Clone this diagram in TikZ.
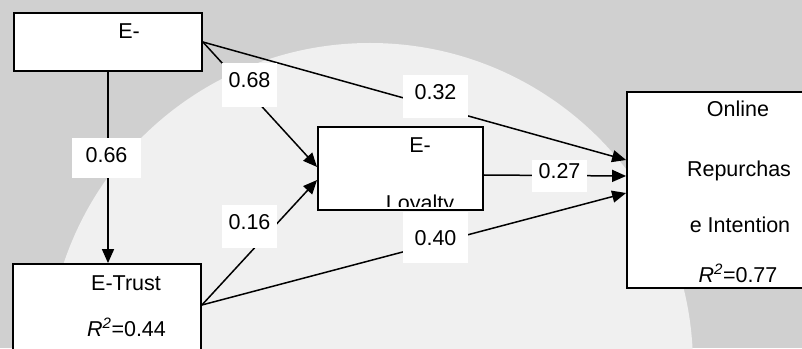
\documentclass[tikz,border=0pt]{standalone}
\usepackage{fontspec}
\setmainfont{Liberation Sans}
\usetikzlibrary{arrows.meta}
\definecolor{bggray}{HTML}{D0D0D0}
\definecolor{bglight}{HTML}{F0F0F0}
\begin{document}
\begin{tikzpicture}[x=1pt,y=1pt,
  font=\fontsize{21.5}{25}\selectfont,
  box/.style={draw=black, line width=1.8pt, fill=white, rectangle, inner sep=0pt},
  arr/.style={line width=1.5pt, -{Triangle[length=14pt,width=12pt]}},
  lbl/.style={fill=white, inner sep=0pt, text depth=10pt},
  txt/.style={anchor=base, inner sep=0pt}]
\clip (0,0) rectangle (802,348);
\fill[bggray] (0,0) rectangle (802,348);
\fill[bglight] (370,-18) circle (323);
% boxes
\node[box, minimum width=188, minimum height=58] (A) at (108,306) {};
\node[box, minimum width=188, minimum height=136] (T) at (107,16) {};
\node[box, minimum width=165, minimum height=83] (L) at (400.5,179.5) {};
\node[box, minimum width=220, minimum height=196] (O) at (737,158) {};
% texts
\node[txt] (tA) at (129,309) {E-};
\node[txt] (tT1) at (126,58) {E-Trust};
\node[txt] (tT2) at (126.5,12) {\textit{R}\textsuperscript{\textit{2}}=0.44};
\node[txt] (tL1) at (420,195) {E-};
\begin{scope}
  \clip ([xshift=1pt,yshift=-1pt]L.north west) rectangle ([yshift=4pt]L.south east);
  \node[txt] (tL2) at (420,137) {Loyalty};
\end{scope}
\node[txt] (tO1) at (738,231) {Online};
\node[txt] (tO2) at (739,171) {Repurchas};
\node[txt] (tO3) at (740,115) {e Intention};
\node[txt] (tO4) at (738,66) {\textit{R}\textsuperscript{\textit{2}}=0.77};
% connectors
\draw[arr] (A.south) -- (A.south |- T.north);
\draw[arr] (A.east) -- ([yshift=1.5pt]L.west);
\draw[arr] (A.east) -- ([yshift=30pt]O.west);
\draw[arr] ([yshift=27pt]T.east) -- ([yshift=-11.5pt]L.west);
\draw[arr] ([yshift=27pt]T.east) -- ([yshift=-3pt]O.west);
\draw[arr] ([yshift=-6.5pt]L.east) -- ([yshift=14pt]O.west);
% labels
\node[lbl, minimum width=69, minimum height=40, text depth=6pt] (l66) at (106.5,190) {0.66};
\node[lbl, minimum width=55, minimum height=44] (l68) at (249.5,263) {0.68};
\node[lbl, minimum width=65, minimum height=43] (l32) at (435.5,251.5) {0.32};
\node[lbl, minimum width=55, minimum height=43] (l16) at (249.5,121.5) {0.16};
\node[lbl, minimum width=65, minimum height=51, text depth=0pt] (l40) at (435.5,110.5) {0.40};
\node[lbl, minimum width=55, minimum height=32] (l27) at (559.5,172) {0.27};
\end{tikzpicture}
\end{document}
